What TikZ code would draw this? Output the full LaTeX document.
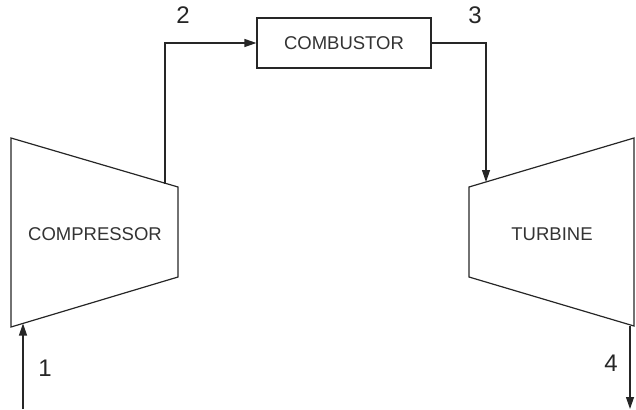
\documentclass[tikz,border=0pt]{standalone}
\usepackage{fontspec}
\setmainfont{Liberation Sans}
\usetikzlibrary{arrows.meta,positioning}

\begin{document}
\begin{tikzpicture}[x=1pt,y=-1pt,line width=1.2pt,draw=black!85,
	  >={Triangle[length=12pt,width=8pt]}]
	  \tikzstyle{machine}=[draw=black!85,line join=miter]
	  \tikzstyle{label}=[font=\fontsize{18.5}{20}\selectfont,text=black!80]
	  \tikzstyle{station}=[font=\fontsize{24}{26}\selectfont,text=black!85]
	  \useasboundingbox (0,0) rectangle (636,409);

	  % compressor and turbine
	  \draw[machine] (11,138) -- (178,187) -- (178,277) -- (11,327) -- cycle;
	  \draw[machine] (469,187) -- (634,138) -- (634,326) -- (469,277) -- cycle;
	  \node[label] (C) at (95,234) {COMPRESSOR};
	  \node[label] (T) at (552,234) {TURBINE};
	  \node[label,draw=black!85,minimum width=174pt,minimum height=50pt,inner sep=0pt] (B) at (344,43) {COMBUSTOR};

	  \coordinate (in1) at (23,409);
	  \coordinate (c1) at (23,323.5);
	  \coordinate (c2) at (165,183.5);
	  \coordinate (t3) at (486,182);
	  \coordinate (t4) at (630,325.5);
	  \coordinate (out4) at (630,409);

	  \draw[->] (in1) -- (c1);
	  \draw[->] (c2) |- (B.west);
	  \draw[->] (B.east) -| (t3);
	  \draw[->] (t4) -- (out4);

	  \node[station] (n1) at (45,368) {1};
	  \node[station] (n2) at (183,15) {2};
	  \node[station] (n3) at (475,15) {3};
	  \node[station] (n4) at (611,363) {4};
	\end{tikzpicture}
\end{document}
